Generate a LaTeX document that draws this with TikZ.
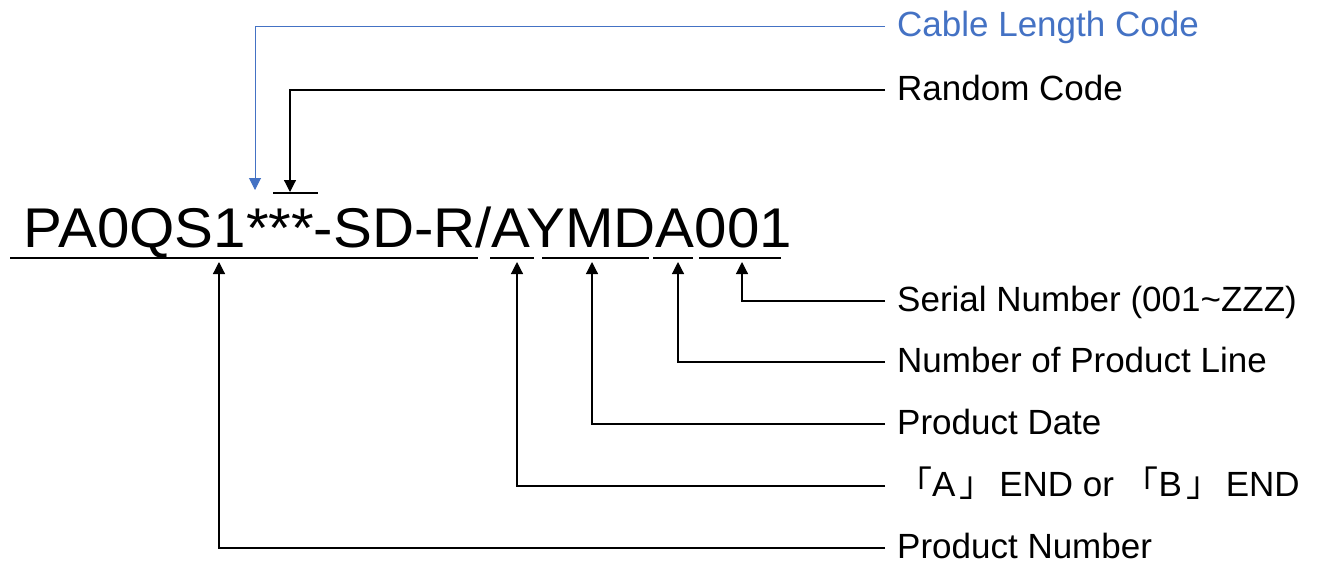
\documentclass[tikz,border=0pt]{standalone}
\usepackage{fontspec}
\setmainfont{Liberation Sans}
\newfontfamily\codefont[FakeStretch=1.04]{Liberation Sans}
\newfontfamily\cjk{Noto Sans CJK SC}
\usetikzlibrary{arrows.meta}
\definecolor{lblue}{HTML}{4472C4}
\newcommand{\lbr}{{\cjk 「}}
\newcommand{\rbr}{\kern4pt{\cjk 」}\kern-5pt}
\begin{document}
\begin{tikzpicture}[x=1pt,y=-1pt,
  lbl/.style={anchor=west,inner sep=0pt,text height=27pt,text depth=7pt,font=\fontsize{35}{40}\selectfont},
  tipstyle/.style={-{Triangle[length=12pt 0,width=12pt 0]}},
  conn/.style={line width=1.2pt,tipstyle},
  seg/.style={line width=1.2pt}]
\useasboundingbox (0,0) rectangle (1317,563);
% main code
\node[anchor=base west,inner sep=0pt,font=\codefont\fontsize{56}{60}\selectfont] (code) at (23.5,247) {PA0QS1***-SD-R/AYMDA001};
% labels
\node[lbl,text=lblue] (clc) at (897,26) {Cable Length Code};
\node[lbl] (rc) at (897,90) {Random Code};
\node[lbl] (sn) at (897,301) {Serial Number (001\textasciitilde ZZZ)};
\node[lbl] (npl) at (897,362) {Number of Product Line};
\node[lbl] (pd) at (897,424) {Product Date};
\node[lbl] (ab) at (897,486) {\lbr A\rbr{} END or \lbr B\rbr{} END};
\node[lbl] (pn) at (897,548) {Product Number};
% tips
\coordinate (tCLC) at (255,190);
\coordinate (tRC) at (290,192);
\coordinate (tSN) at (742,262);
\coordinate (tNPL) at (678,262);
\coordinate (tPD) at (592,262);
\coordinate (tAB) at (517,262);
\coordinate (tPN) at (219,262);
% underline / overline segments
\draw[seg] (10,258) -- (478,258);
\draw[seg] (490,258) -- (534,258);
\draw[seg] (542,258) -- (649,258);
\draw[seg] (653,258) -- (693,258);
\draw[seg] (699,258) -- (781,258);
\draw[seg] (273,193) -- (318,193);
% connectors
\draw[conn,lblue,line width=1pt] ([xshift=-12pt]clc.west) -| (tCLC);
\draw[conn] ([xshift=-12pt]rc.west) -| (tRC);
\draw[conn] ([xshift=-12pt]sn.west) -| (tSN);
\draw[conn] ([xshift=-12pt]npl.west) -| (tNPL);
\draw[conn] ([xshift=-12pt]pd.west) -| (tPD);
\draw[conn] ([xshift=-12pt]ab.west) -| (tAB);
\draw[conn] ([xshift=-12pt]pn.west) -| (tPN);
\end{tikzpicture}
\end{document}
